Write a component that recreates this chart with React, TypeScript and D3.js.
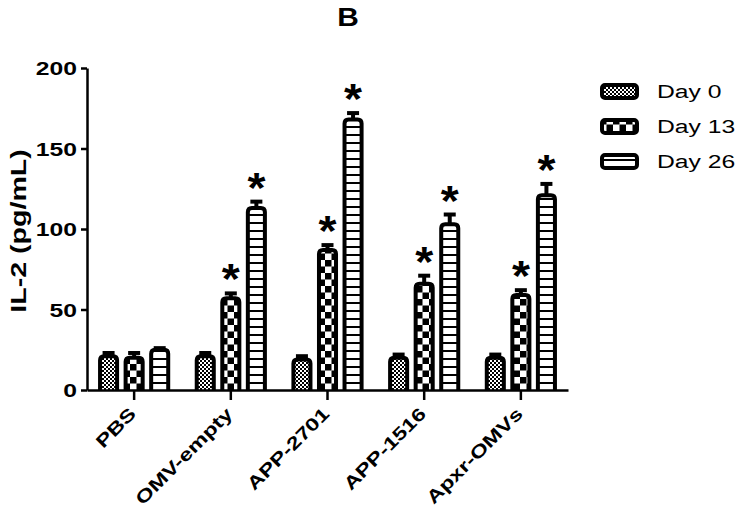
import React, { useEffect, useRef } from "react";
import * as d3 from "d3";

const groups = ["PBS", "OMV-empty", "APP-2701", "APP-1516", "Apxr-OMVs"];
const seriesNames = ["Day 0", "Day 13", "Day 26"];
const day0 = [21, 21, 19, 20, 20];
const day13 = [20, 57, 87, 66, 59];
const day26 = [25, 113, 168, 103, 121];
const err0 = [2, 2, 2, 2, 2];
const err13 = [3, 3, 3, 5, 3];
const err26 = [1, 4, 4, 6, 7];
const starred13 = [false, true, true, true, true];
const starred26 = [false, true, true, true, true];
const yTicks = [0, 50, 100, 150, 200];

const App = () => {
  const ref = useRef<SVGSVGElement>(null);

  useEffect(() => {
    const svg = d3.select(ref.current);
    svg.selectAll("*").remove();

    const width = 740;
    const height = 511;
    const left = 87;
    const top = 68;
    const bottom = 390;
    const font = "Arial, 'Liberation Sans', sans-serif";
    const stretch = 1.3; // text in the picture is wider than plain Arial

    svg.attr("viewBox", `0 0 ${width} ${height}`);

    // wide text helper
    const wideText = (parent: any, x: number, y: number, rot: number, size: number, bold: boolean, anchor: string, str: string) =>
      parent.append("text")
        .attr("transform", `translate(${x},${y}) rotate(${rot}) scale(${stretch},1)`)
        .attr("text-anchor", anchor).attr("font-family", font).attr("font-size", size)
        .attr("font-weight", bold ? "bold" : "normal").attr("fill", "#000").text(str);

    // fill patterns
    const defs = svg.append("defs");
    const p0 = defs.append("pattern").attr("id", "pat0").attr("patternUnits", "userSpaceOnUse")
      .attr("width", 4).attr("height", 4);
    p0.append("rect").attr("width", 4).attr("height", 4).attr("fill", "#fff");
    p0.append("rect").attr("width", 2).attr("height", 2).attr("fill", "#000");
    p0.append("rect").attr("x", 2).attr("y", 2).attr("width", 2).attr("height", 2).attr("fill", "#000");

    const p1 = defs.append("pattern").attr("id", "pat1").attr("patternUnits", "userSpaceOnUse")
      .attr("width", 13).attr("height", 13);
    p1.append("rect").attr("width", 13).attr("height", 13).attr("fill", "#fff");
    p1.append("rect").attr("width", 6.5).attr("height", 6.5).attr("fill", "#000");
    p1.append("rect").attr("x", 6.5).attr("y", 6.5).attr("width", 6.5).attr("height", 6.5).attr("fill", "#000");

    const p2 = defs.append("pattern").attr("id", "pat2").attr("patternUnits", "userSpaceOnUse")
      .attr("width", 10).attr("height", 8);
    p2.append("rect").attr("width", 10).attr("height", 8).attr("fill", "#fff");
    p2.append("rect").attr("y", 6).attr("width", 10).attr("height", 2).attr("fill", "#000");

    const fills = ["url(#pat0)", "url(#pat1)", "url(#pat2)"];

    const y = d3.scaleLinear().domain([0, 200]).range([bottom, top]);
    const x0 = d3.scaleBand().domain(groups).range([left, 568]).paddingInner(0.295).paddingOuter(0.135);
    const x1 = d3.scaleBand().domain(seriesNames).range([0, x0.bandwidth()]).paddingInner(0.333);

    const values = [day0, day13, day26];
    const errs = [err0, err13, err26];
    const starred = [groups.map(() => false), starred13, starred26];

    const g = svg.append("g");

    groups.forEach((grp, gi) => {
      seriesNames.forEach((s, si) => {
        const bx = x0(grp)! + x1(s)!;
        const bw = x1.bandwidth();
        const v = values[si][gi];
        const e = errs[si][gi];
        const yt = y(v);
        const ye = y(v + e);
        const cx = bx + bw / 2;
        // error bar
        g.append("line").attr("x1", cx).attr("x2", cx).attr("y1", yt).attr("y2", ye)
          .attr("stroke", "#000").attr("stroke-width", 4);
        g.append("line").attr("x1", cx - 6).attr("x2", cx + 6).attr("y1", ye).attr("y2", ye)
          .attr("stroke", "#000").attr("stroke-width", 4);
        // bar with rounded top
        const r = 4;
        const path = `M${bx},${bottom} L${bx},${yt + r} Q${bx},${yt} ${bx + r},${yt} L${bx + bw - r},${yt} Q${bx + bw},${yt} ${bx + bw},${yt + r} L${bx + bw},${bottom}`;
        g.append("path").attr("d", path).attr("fill", fills[si])
          .attr("stroke", "#000").attr("stroke-width", 4);
        if (starred[si][gi]) {
          g.append("text").attr("transform", `translate(${cx},${ye}) scale(1.1,1)`)
            .attr("text-anchor", "middle").attr("font-family", font)
            .attr("font-size", 42).attr("font-weight", "bold").attr("fill", "#000").text("*");
        }
      });
    });

    // y axis
    const ya = svg.append("g").attr("transform", `translate(${left},0)`)
      .call(d3.axisLeft(y).tickValues(yTicks).tickSize(6).tickSizeOuter(0));
    ya.select(".domain").attr("stroke-width", 2.5);
    ya.selectAll(".tick line").attr("stroke-width", 2.5);
    ya.selectAll(".tick text").remove();
    yTicks.forEach((t) => wideText(svg, left - 10, y(t) + 7, 0, 19, true, "end", String(t)));

    // x axis
    const xa = svg.append("g").attr("transform", `translate(0,${bottom})`)
      .call(d3.axisBottom(x0).tickSize(10).tickSizeOuter(0));
    xa.select(".domain").attr("stroke-width", 2.5);
    xa.selectAll(".tick line").attr("stroke-width", 2.5);
    xa.selectAll(".tick text").remove();
    groups.forEach((grp) => {
      const tx = x0(grp)! + x0.bandwidth() / 2;
      wideText(svg, tx + 3, bottom + 25, -45, 18, true, "end", grp);
    });

    // y label
    wideText(svg, 26, (top + bottom) / 2 + 2, -90, 22, true, "middle", "IL-2 (pg/mL)");

    // title
    svg.append("text").attr("transform", "translate(348,26) scale(1.15,1)").attr("text-anchor", "middle")
      .attr("font-family", font).attr("font-size", 26).attr("font-weight", "bold").text("B");

    // legend
    const lg = svg.append("g").attr("transform", "translate(600,83)");
    seriesNames.forEach((s, si) => {
      const row = lg.append("g").attr("transform", `translate(0,${si * 35})`);
      row.append("rect").attr("x", 2).attr("y", 2).attr("width", 35).attr("height", 13)
        .attr("rx", 3).attr("fill", fills[si]).attr("stroke", "#000").attr("stroke-width", 4);
      wideText(row, 57, 15, 0, 19, false, "start", s);
    });
  }, []);

  return (
    <svg
      ref={ref}
      width={740}
      height={511}
      style={{ position: "absolute", left: 0, top: 0, background: "#fff" }}
    />
  );
};

export default App;
